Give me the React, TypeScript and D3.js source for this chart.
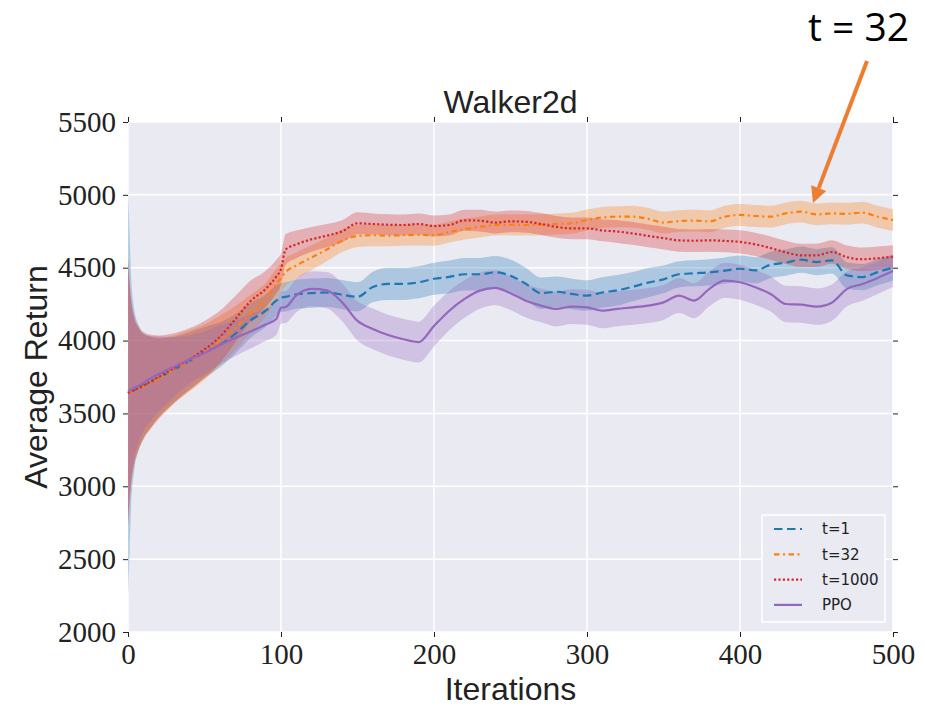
import React, { useEffect, useRef } from 'react';
import * as d3 from 'd3';

const iters = [0, 1, 2, 4, 7, 10, 15, 20, 30, 40, 50, 60, 70, 80, 90, 97, 100, 103,
  110, 120, 130, 140, 150, 160, 170, 180, 190, 200, 210, 220, 230, 240, 250, 260, 270, 280, 290, 300,
  310, 320, 330, 340, 350, 360, 370, 380, 390, 400, 410, 420, 430, 440, 450, 460, 470, 480, 490, 500];

const meanT1 = [3640, 3645, 3650, 3660, 3675, 3690, 3717, 3745, 3800, 3860, 3918, 3970, 4045, 4138, 4205, 4275, 4295, 4300,
  4318, 4326, 4330, 4315, 4300, 4368, 4389, 4389, 4400, 4424, 4437, 4455, 4455, 4468, 4445, 4390, 4325, 4335, 4320, 4309,
  4330, 4345, 4370, 4398, 4420, 4455, 4462, 4468, 4480, 4493, 4482, 4520, 4535, 4555, 4539, 4551, 4447, 4436, 4470, 4500];
const sdT1 = [1400, 1100, 800, 560, 430, 360, 310, 270, 225, 195, 175, 155, 135, 120, 110, 105, 100, 100,
  100, 100, 100, 100, 100, 105, 110, 110, 110, 110, 112, 112, 112, 112, 112, 110, 108, 105, 105, 105,
  105, 105, 100, 100, 95, 90, 90, 90, 90, 90, 90, 90, 90, 90, 90, 90, 90, 90, 90, 90];

const meanT32 = [3640, 3643, 3646, 3655, 3670, 3685, 3712, 3740, 3800, 3860, 3920, 4000, 4085, 4183, 4280, 4390, 4430, 4470,
  4515, 4570, 4625, 4685, 4718, 4723, 4720, 4723, 4725, 4723, 4745, 4765, 4780, 4793, 4795, 4793, 4795, 4800, 4805, 4827,
  4845, 4850, 4850, 4835, 4810, 4820, 4823, 4818, 4850, 4862, 4855, 4850, 4873, 4885, 4866, 4873, 4870, 4878, 4850, 4827];
const sdT32 = [900, 740, 620, 500, 410, 360, 315, 280, 235, 210, 190, 170, 150, 130, 115, 105, 100, 95,
  90, 85, 80, 78, 75, 75, 72, 72, 72, 72, 72, 72, 72, 72, 72, 72, 72, 72, 72, 72,
  72, 72, 75, 75, 75, 75, 75, 75, 75, 75, 75, 75, 75, 75, 75, 75, 75, 75, 75, 75];

const meanT1000 = [3640, 3645, 3650, 3660, 3675, 3690, 3720, 3750, 3810, 3870, 3940, 4025, 4145, 4270, 4355, 4440, 4490, 4625,
  4660, 4695, 4720, 4750, 4805, 4800, 4795, 4793, 4800, 4786, 4793, 4825, 4823, 4810, 4818, 4815, 4800, 4780, 4770, 4770,
  4756, 4748, 4735, 4718, 4703, 4688, 4685, 4688, 4684, 4677, 4660, 4635, 4605, 4585, 4585, 4608, 4572, 4558, 4565, 4575];
const sdT1000 = [920, 760, 640, 510, 420, 370, 320, 285, 240, 215, 195, 180, 160, 140, 125, 115, 110, 105,
  95, 85, 80, 75, 75, 72, 72, 72, 72, 72, 72, 72, 75, 75, 75, 75, 75, 75, 75, 75,
  75, 78, 78, 78, 78, 78, 78, 78, 78, 80, 80, 80, 80, 80, 80, 80, 80, 80, 80, 80];

const meanPPO = [3650, 3656, 3662, 3675, 3692, 3710, 3742, 3770, 3820, 3870, 3915, 3970, 4017, 4063, 4110, 4150, 4225, 4230,
  4310, 4355, 4345, 4262, 4135, 4080, 4038, 4009, 3990, 4100, 4205, 4286, 4343, 4362, 4325, 4274, 4240, 4217, 4233, 4228,
  4205, 4218, 4228, 4240, 4262, 4309, 4274, 4355, 4412, 4400, 4366, 4320, 4251, 4247, 4233, 4260, 4355, 4388, 4430, 4477];
const sdPPO = [900, 750, 620, 480, 390, 330, 290, 260, 205, 165, 148, 135, 125, 118, 112, 110, 110, 110,
  115, 120, 125, 130, 135, 140, 140, 140, 140, 140, 135, 130, 125, 120, 115, 115, 115, 120, 120, 120,
  120, 120, 120, 120, 120, 120, 120, 120, 120, 120, 120, 120, 125, 125, 125, 125, 120, 115, 110, 110];

const seriesNames = ['t=1', 't=32', 't=1000', 'PPO'];
const seriesMeans = [meanT1, meanT32, meanT1000, meanPPO];
const seriesSds = [sdT1, sdT32, sdT1000, sdPPO];
const colors = ['#1f77b4', '#ff7f0e', '#d62728', '#9467bd'];
const dashes = ['8.5,4.5', '5.5,3.5,2,3.5', '2.2,2.2', null];

const xTicks = [0, 100, 200, 300, 400, 500];
const yTicks = [2000, 2500, 3000, 3500, 4000, 4500, 5000, 5500];

const App = () => {
  const ref = useRef<SVGSVGElement>(null);

  useEffect(() => {
    const svg = d3.select(ref.current);
    svg.selectAll('*').remove();

    const left = 128, top = 122;
    const width = 765, height = 510;

    const x = d3.scaleLinear().domain([0, 500]).range([0, width]);
    const y = d3.scaleLinear().domain([2000, 5500]).range([height, 0]);

    const g = svg.append('g').attr('transform', `translate(${left},${top})`);

    g.append('rect').attr('width', width).attr('height', height).attr('fill', '#eaeaf2');

    // grid
    g.selectAll('.vgrid').data(xTicks).enter().append('line')
      .attr('x1', d => x(d)).attr('x2', d => x(d))
      .attr('y1', 0).attr('y2', height)
      .attr('stroke', '#fff').attr('stroke-width', 1.5);
    g.selectAll('.hgrid').data(yTicks).enter().append('line')
      .attr('x1', 0).attr('x2', width)
      .attr('y1', d => y(d)).attr('y2', d => y(d))
      .attr('stroke', '#fff').attr('stroke-width', 1.5);

    const plot = g.append('g');

    // bands
    seriesMeans.forEach((m, i) => {
      const sd = seriesSds[i];
      const area = d3.area<number>()
        .x((_, j) => x(iters[j]))
        .y0((d, j) => y(d - sd[j]))
        .y1((d, j) => y(d + sd[j]))
        .curve(d3.curveMonotoneX);
      plot.append('path').datum(m)
        .attr('d', area)
        .attr('fill', colors[i])
        .attr('fill-opacity', 0.3);
    });

    // mean lines
    seriesMeans.forEach((m, i) => {
      const line = d3.line<number>()
        .x((_, j) => x(iters[j]))
        .y(d => y(d))
        .curve(d3.curveMonotoneX);
      const p = plot.append('path').datum(m)
        .attr('d', line)
        .attr('fill', 'none')
        .attr('stroke', colors[i])
        .attr('stroke-width', 2.2);
      if (dashes[i]) p.attr('stroke-dasharray', dashes[i]);
    });

    // axes: ticks on all four sides
    const styleAxis = (sel: any) => {
      sel.select('.domain').remove();
      sel.selectAll('.tick line').attr('stroke', '#222').attr('stroke-width', 1);
      sel.selectAll('.tick text')
        .attr('fill', '#222')
        .style('font-family', '"Liberation Serif", "DejaVu Serif", serif')
        .style('font-size', '29px');
    };

    g.append('g')
      .call(d3.axisLeft(y).tickValues(yTicks).tickSize(5).tickPadding(7).tickFormat(d3.format('d')))
      .call(styleAxis);

    g.append('g')
      .attr('transform', `translate(0,${height})`)
      .call(d3.axisBottom(x).tickValues(xTicks).tickSize(5).tickPadding(6).tickFormat(d3.format('d')))
      .call(styleAxis);

    g.append('g')
      .call(d3.axisTop(x).tickValues(xTicks).tickSize(5).tickFormat(() => ''))
      .call(styleAxis);

    g.append('g')
      .attr('transform', `translate(${width},0)`)
      .call(d3.axisRight(y).tickValues(yTicks).tickSize(5).tickFormat(() => ''))
      .call(styleAxis);

    // title and axis labels
    const sans = '"Liberation Sans", Arial, sans-serif';
    g.append('text')
      .attr('x', width / 2).attr('y', -9)
      .attr('text-anchor', 'middle')
      .style('font-family', sans).style('font-size', '32px').attr('fill', '#222')
      .text('Walker2d');

    g.append('text')
      .attr('x', width / 2).attr('y', height + 68)
      .attr('text-anchor', 'middle')
      .style('font-family', sans).style('font-size', '32px').attr('fill', '#222')
      .text('Iterations');

    svg.append('text')
      .attr('transform', `translate(47,${top + height / 2}) rotate(-90)`)
      .attr('text-anchor', 'middle')
      .style('font-family', sans).style('font-size', '32px').attr('fill', '#222')
      .text('Average Return');

    // legend
    const lg = svg.append('g').attr('transform', 'translate(762,515)');
    lg.append('rect').attr('width', 123).attr('height', 107)
      .attr('fill', '#eaeaf2').attr('stroke', '#fff').attr('stroke-width', 1.5);
    seriesNames.forEach((name, i) => {
      const ry = 14 + i * 25.3;
      const l = lg.append('line')
        .attr('x1', 12).attr('x2', 40).attr('y1', ry).attr('y2', ry)
        .attr('stroke', colors[i]).attr('stroke-width', 2.2);
      if (dashes[i]) l.attr('stroke-dasharray', dashes[i]);
      lg.append('text')
        .attr('x', 60).attr('y', ry).attr('dy', '0.35em')
        .style('font-family', '"DejaVu Sans", sans-serif').style('font-size', '15px').attr('fill', '#222')
        .text(name);
    });

    // annotation
    svg.append('text')
      .attr('x', 808).attr('y', 41)
      .style('font-family', '"Open Sans", sans-serif').style('font-size', '39px').attr('fill', '#000')
      .text('t = 32');
    svg.append('line')
      .attr('x1', 867).attr('y1', 61).attr('x2', 818.7).attr('y2', 188.1)
      .attr('stroke', '#ed7d31').attr('stroke-width', 4);
    svg.append('polygon')
      .attr('points', '813,203 826.2,190.9 811.2,185.3')
      .attr('fill', '#ed7d31');
  }, []);

  return (
    <svg ref={ref} width={925} height={708}
      style={{ position: 'absolute', left: 0, top: 0, background: '#fff' }} />
  );
};

export default App;
